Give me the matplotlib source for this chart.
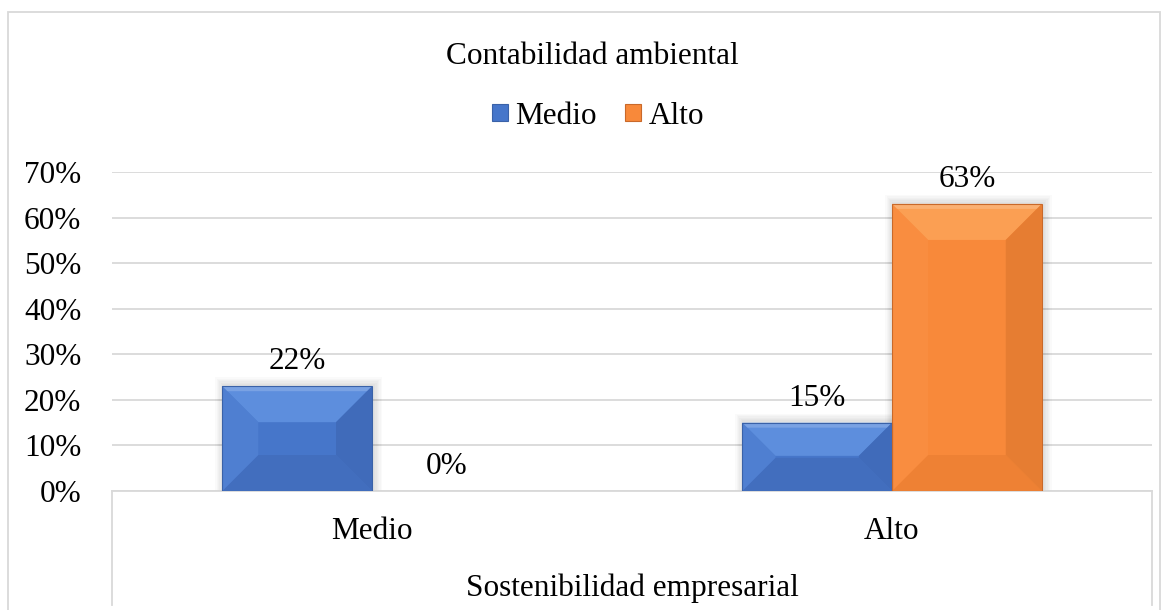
import matplotlib
matplotlib.use("Agg")
import matplotlib.pyplot as plt
from matplotlib.patches import Rectangle, Polygon, Patch
from matplotlib.lines import Line2D
import numpy as np

# ---------------- data ----------------
title = "Contabilidad ambiental"
xlabel = "Sostenibilidad empresarial"
categories = ["Medio", "Alto"]
series_names = ["Medio", "Alto"]
medio_values = [0.23, 0.15]
alto_values = [0.0, 0.63]
medio_labels = ["22%", "15%"]
alto_labels = ["0%", "63%"]
yticks = [0.0, 0.1, 0.2, 0.3, 0.4, 0.5, 0.6, 0.7]
ytick_labels = ["0%", "10%", "20%", "30%", "40%", "50%", "60%", "70%"]

# ---------------- style ----------------
plt.rcParams['font.family'] = ['Liberation Serif', 'DejaVu Serif']
FS = 22.5
W, H, DPI = 1166, 610, 100
fig = plt.figure(figsize=(W / DPI, H / DPI), dpi=DPI)
fig.patch.set_facecolor("white")

grid_col = "#D9D9D9"

# figure border (bottom runs off the image)
fig.add_artist(Rectangle((8 / W, -0.1), (1160 - 8) / W, 1.1 - 12 / H,
                         transform=fig.transFigure, fill=False,
                         edgecolor=grid_col, linewidth=1.3))

ax_l, ax_r = 112 / W, 1152 / W
ax_b, ax_t = 1 - 491 / H, 1 - 172 / H
ax = fig.add_axes([ax_l, ax_b, ax_r - ax_l, ax_t - ax_b])
ax.set_xlim(-0.5, len(categories) - 0.5)
ax.set_ylim(0, 0.7)
for s in ["top", "right", "left"]:
    ax.spines[s].set_visible(False)
ax.spines["bottom"].set_color(grid_col)
ax.spines["bottom"].set_linewidth(1.3)
ax.set_yticks(yticks)
ax.set_yticklabels(ytick_labels, fontsize=FS)
ax.tick_params(axis="y", length=0, pad=22)
ax.set_xticks([])
ax.yaxis.grid(True, color=grid_col, linewidth=1.3)
ax.set_axisbelow(True)

# table-style lines below the axis
for xf in (ax_l, ax_r):
    fig.add_artist(Line2D([xf, xf], [ax_b, 1 - 605 / H], transform=fig.transFigure,
                          color=grid_col, linewidth=1.3))

# category labels and axis title
for i, c in enumerate(categories):
    ax.annotate(c, xy=(i, 0), xycoords=("data", "axes fraction"),
                xytext=(0, -29), textcoords="offset points",
                ha="center", va="center", fontsize=FS)
fig.text((ax_l + ax_r) / 2, 1 - 588 / H, xlabel, ha="center", va="center", fontsize=FS)

fig.text(0.508, 1 - 56 / H, title, ha="center", va="center", fontsize=FS)

bw = 0.288
x = np.arange(len(categories))

pal = {
    "Medio": dict(face="#4676CA", top="#6495E2", left="#5282D3", right="#3F69B6",
                  bottom="#426CBC", edge="#3A62A8"),
    "Alto": dict(face="#F8893A", top="#FDA55A", left="#FA8F42", right="#E27A30",
                 bottom="#EC8033", edge="#C9692A"),
}

to_data = ax.transData.inverted()


def bevel_bar(xc, val, c):
    if val <= 0:
        return
    (px0, py0) = ax.transData.transform((xc - bw / 2, 0))
    (px1, py1) = ax.transData.transform((xc + bw / 2, val))
    # soft shadow
    for k in range(1, 7):
        g = k * 1.3
        a0 = to_data.transform((px0 - g + 1, py0))
        a1 = to_data.transform((px1 + g + 2, py1 + g + 1))
        ax.add_patch(Rectangle(a0, a1[0] - a0[0], a1[1] - a0[1],
                               facecolor="black", alpha=0.018, edgecolor="none", zorder=2))
    ax.add_patch(Rectangle((xc - bw / 2, 0), bw, val, facecolor=c["face"],
                           edgecolor="none", zorder=3))
    h = py1 - py0
    b = min(36, h / 2 - 1)
    polys = {
        "top": [(px0, py1), (px1, py1), (px1 - b, py1 - b), (px0 + b, py1 - b)],
        "bottom": [(px0, py0), (px1, py0), (px1 - b, py0 + b), (px0 + b, py0 + b)],
        "left": [(px0, py0), (px0, py1), (px0 + b, py1 - b), (px0 + b, py0 + b)],
        "right": [(px1, py0), (px1, py1), (px1 - b, py1 - b), (px1 - b, py0 + b)],
    }
    for k, pts in polys.items():
        dpts = to_data.transform(np.array(pts))
        ax.add_patch(Polygon(dpts, closed=True, facecolor=c[k], edgecolor="none",
                             alpha=0.8, zorder=4))
    # thin highlight at very top edge
    t0 = to_data.transform((px0 + 1, py1 - 5))
    t1 = to_data.transform((px1 - 1, py1))
    ax.add_patch(Polygon(to_data.transform(np.array(
        [(px0, py1), (px1, py1), (px1 - 5, py1 - 5), (px0 + 5, py1 - 5)])),
        closed=True, facecolor="white", alpha=0.18, edgecolor="none", zorder=4.5))
    ax.add_patch(Rectangle((xc - bw / 2, 0), bw, val, facecolor="none",
                           edgecolor=c["edge"], linewidth=0.8, zorder=5))


for vals, labels, name, off in ((medio_values, medio_labels, "Medio", -bw / 2),
                                (alto_values, alto_labels, "Alto", bw / 2)):
    for i, (v, lab) in enumerate(zip(vals, labels)):
        bevel_bar(x[i] + off, v, pal[name])
        ax.annotate(lab, xy=(x[i] + off, v), xytext=(0, 7), textcoords="offset points",
                    ha="center", va="bottom", fontsize=FS, zorder=6)

handles = [Patch(facecolor=pal[n]["face"], edgecolor=pal[n]["edge"], linewidth=0.8)
           for n in series_names]
fig.legend(handles, series_names, loc="center", bbox_to_anchor=(0.513, 1 - 116 / H),
           ncol=2, frameon=False, fontsize=FS, handlelength=0.5, handleheight=0.5,
           handletextpad=0.25, columnspacing=0.9)

fig.savefig("out.png", dpi=DPI)
